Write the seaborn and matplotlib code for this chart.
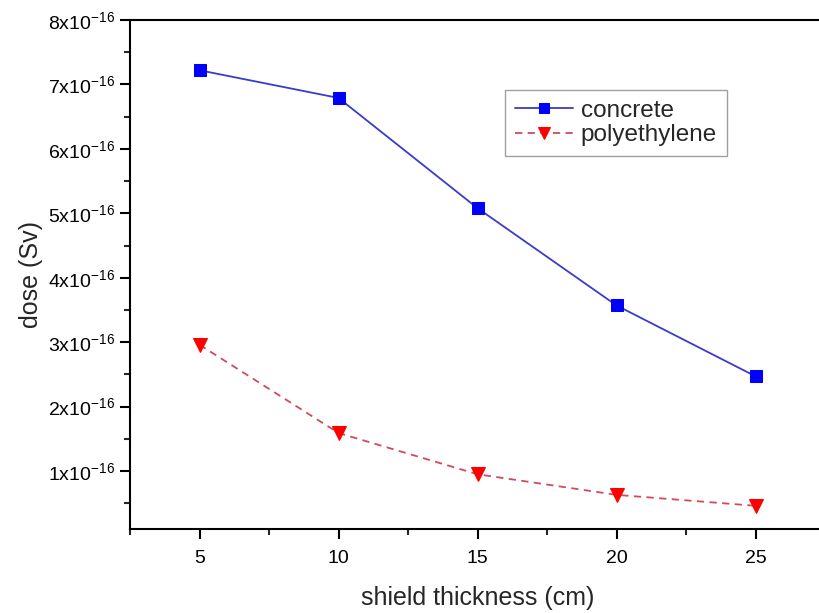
import pandas as pd
import matplotlib
matplotlib.use("Agg")
import matplotlib.pyplot as plt
import seaborn as sns
from matplotlib.ticker import MultipleLocator, FuncFormatter

thickness = [5, 10, 15, 20, 25]
concrete = [7.22e-16, 6.79e-16, 5.08e-16, 3.57e-16, 2.47e-16]
polyethylene = [2.96e-16, 1.59e-16, 0.95e-16, 0.63e-16, 0.46e-16]

df_con = pd.DataFrame({"thickness": thickness, "dose": concrete})
df_poly = pd.DataFrame({"thickness": thickness, "dose": polyethylene})

sns.set_style("ticks")
plt.rcParams["font.family"] = ["Liberation Sans", "DejaVu Sans"]
plt.rcParams["mathtext.default"] = "regular"

fig = plt.figure(figsize=(8.19, 6.13), dpi=100)
ax = fig.add_axes([130 / 819, 1 - 529 / 613, 695 / 819, 509 / 613])

sns.lineplot(data=df_con, x="thickness", y="dose", ax=ax, color="#3a3acc", lw=1.3,
             marker="s", markersize=8, markerfacecolor="#0000ff", markeredgecolor="#0000ff",
             label="concrete")
sns.lineplot(data=df_poly, x="thickness", y="dose", ax=ax, color="#d04a5a", lw=1.3,
             linestyle=(0, (4, 3)), marker="v", markersize=10, markerfacecolor="#ff0000",
             markeredgecolor="#ff0000", label="polyethylene")

ax.set_xlim(2.5, 27.5)
ax.set_ylim(0.1e-16, 8e-16)
ax.xaxis.set_major_locator(MultipleLocator(5))
ax.xaxis.set_minor_locator(MultipleLocator(2.5))
ax.yaxis.set_major_locator(MultipleLocator(1e-16))
ax.yaxis.set_minor_locator(MultipleLocator(0.5e-16))
ax.yaxis.set_major_formatter(FuncFormatter(lambda v, p: f"{v / 1e-16:.0f}x10$^{{-16}}$"))

ax.tick_params(which="major", direction="out", length=7, width=1.5, labelsize=14, colors="black")
ax.tick_params(which="minor", direction="out", length=4, width=1.5)
ax.tick_params(axis="x", pad=8)
for s in ["left", "bottom", "top"]:
    ax.spines[s].set_linewidth(1.5)
    ax.spines[s].set_color("black")
ax.spines["right"].set_visible(False)

ax.set_xlabel("shield thickness (cm)", fontsize=18, labelpad=14)
ax.set_ylabel("dose (Sv)", fontsize=18, labelpad=4)

leg = ax.legend(loc="upper left", bbox_to_anchor=(0.54, 0.862), borderaxespad=0, fontsize=17.5,
                frameon=True, fancybox=False, edgecolor="#888888", handlelength=2.4,
                borderpad=0.4, labelspacing=0.1, handletextpad=0.3, markerscale=0.85)
leg.get_frame().set_linewidth(1.0)

fig.savefig("out.png", dpi=100)
